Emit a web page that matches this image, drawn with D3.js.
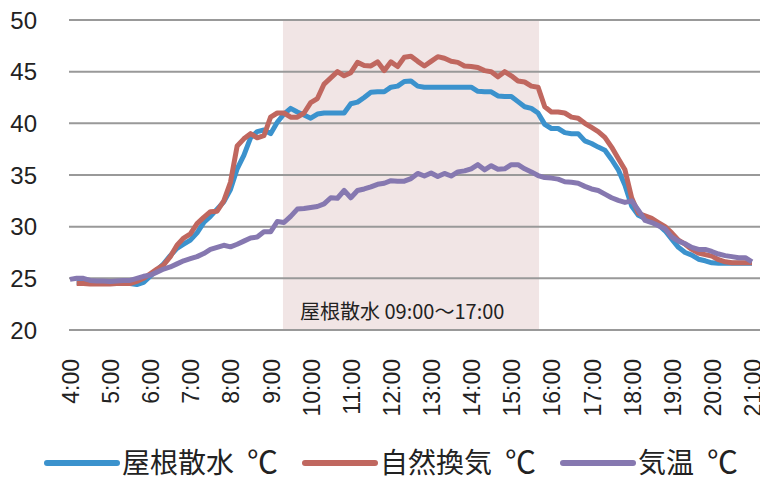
<!DOCTYPE html>
<html>
<head>
<meta charset="utf-8">
<script src="https://cdn.jsdelivr.net/npm/d3@7"></script>
<style>
  html, body { margin: 0; padding: 0; background: #fff; }
  svg text { font-family: "Liberation Sans", Arial, sans-serif; fill: #222; }
  .jp { font-family: "Noto Sans CJK JP", sans-serif; }
</style>
</head>
<body>
<svg id="chart" width="760" height="478"></svg>
<script>
// 10 minute readings, 4:00 - 21:00
const times = ("4:00 4:10 4:20 4:30 4:40 4:50 5:00 5:10 5:20 5:30 5:40 5:50 " +
  "6:00 6:10 6:20 6:30 6:40 6:50 7:00 7:10 7:20 7:30 7:40 7:50 " +
  "8:00 8:10 8:20 8:30 8:40 8:50 9:00 9:10 9:20 9:30 9:40 9:50 " +
  "10:00 10:10 10:20 10:30 10:40 10:50 11:00 11:10 11:20 11:30 11:40 11:50 " +
  "12:00 12:10 12:20 12:30 12:40 12:50 13:00 13:10 13:20 13:30 13:40 13:50 " +
  "14:00 14:10 14:20 14:30 14:40 14:50 15:00 15:10 15:20 15:30 15:40 15:50 " +
  "16:00 16:10 16:20 16:30 16:40 16:50 17:00 17:10 17:20 17:30 17:40 17:50 " +
  "18:00 18:10 18:20 18:30 18:40 18:50 19:00 19:10 19:20 19:30 19:40 19:50 " +
  "20:00 20:10 20:20 20:30 20:40 20:50 21:00").split(" ");

const hourLabels = ["4:00","5:00","6:00","7:00","8:00","9:00","10:00","11:00","12:00",
  "13:00","14:00","15:00","16:00","17:00","18:00","19:00","20:00","21:00"];
const yTicks = [20, 25, 30, 35, 40, 45, 50];

// 屋根散水 (starts 4:10)
const roofSpray = [null,
  24.6, 24.6, 24.55, 24.55, 24.5, 24.5, 24.5, 24.5, 24.5, 24.4, 24.6,
  25.2, 25.8, 26.4, 27.2, 27.9, 28.3, 28.7, 29.4, 30.4, 31.0, 31.7, 32.4,
  33.6, 35.6, 36.9, 38.6, 39.2, 39.35, 39.0, 40.1, 40.9, 41.45, 41.1, 40.8,
  40.5, 40.9, 41.0, 41.0, 41.0, 41.0, 41.9, 42.05, 42.5, 43.0, 43.05, 43.05,
  43.5, 43.6, 44.05, 44.1, 43.6, 43.5, 43.5, 43.5, 43.5, 43.5, 43.5, 43.5,
  43.5, 43.1, 43.05, 43.05, 42.65, 42.6, 42.6, 42.1, 41.6, 41.45, 41.0, 39.9,
  39.5, 39.5, 39.1, 39.0, 39.0, 38.3, 38.05, 37.7, 37.4, 36.5, 35.5, 34.0,
  32.0, 31.1, 30.8, 30.5, 30.2, 29.6, 28.8, 28.0, 27.5, 27.25, 26.85, 26.7,
  26.5, 26.45, 26.45, 26.45, 26.45, 26.45, 26.45];

// 自然換気 (starts 4:10)
const natural = [null,
  24.5, 24.5, 24.45, 24.45, 24.45, 24.45, 24.5, 24.5, 24.5, 24.7, 25.0,
  25.45, 25.9, 26.3, 27.1, 28.2, 28.9, 29.3, 30.3, 30.9, 31.45, 31.5, 32.5,
  34.3, 37.8, 38.5, 39.0, 38.6, 38.8, 40.6, 41.0, 41.0, 40.6, 40.6, 41.0,
  42.0, 42.4, 43.8, 44.4, 45.0, 44.6, 44.9, 45.9, 45.6, 45.55, 45.95, 45.1,
  45.95, 45.5, 46.4, 46.5, 46.0, 45.55, 46.0, 46.45, 46.3, 46.0, 45.9, 45.55,
  45.5, 45.4, 45.1, 45.0, 44.5, 45.0, 44.6, 44.1, 44.0, 43.6, 43.5, 41.6,
  41.1, 41.1, 41.0, 40.6, 40.5, 40.0, 39.6, 39.2, 38.65, 37.7, 36.6, 35.5,
  32.8, 31.3, 31.05, 30.8, 30.4, 30.0, 29.4, 28.7, 28.3, 27.8, 27.45, 27.3,
  27.15, 26.8, 26.6, 26.5, 26.5, 26.5, 26.5];

// 気温
const airTemp = [
  24.9, 25.0, 25.0, 24.8, 24.75, 24.75, 24.7, 24.75, 24.8, 24.8, 25.0, 25.2,
  25.3, 25.6, 25.9, 26.1, 26.4, 26.7, 26.9, 27.1, 27.4, 27.8, 28.0, 28.2,
  28.05, 28.3, 28.6, 28.9, 29.0, 29.5, 29.5, 30.5, 30.4, 31.0, 31.7, 31.75,
  31.85, 31.95, 32.2, 32.8, 32.75, 33.5, 32.8, 33.5, 33.65, 33.85, 34.1, 34.2,
  34.45, 34.4, 34.4, 34.65, 35.15, 34.9, 35.2, 34.85, 35.15, 34.9, 35.3, 35.4,
  35.6, 36.0, 35.5, 35.9, 35.55, 35.6, 36.0, 36.0, 35.6, 35.3, 34.95, 34.75,
  34.7, 34.6, 34.35, 34.3, 34.2, 33.9, 33.65, 33.5, 33.15, 32.8, 32.55, 32.35,
  32.5, 31.6, 30.6, 30.4, 30.1, 29.8, 29.0, 28.6, 28.35, 28.0, 27.8, 27.8,
  27.6, 27.35, 27.2, 27.1, 27.0, 27.0, 26.6];

const series = [
  {name: "屋根散水", unit: "℃", color: "#3b92cd", values: roofSpray},
  {name: "自然換気", unit: "℃", color: "#c0675f", values: natural},
  {name: "気温", unit: "℃", color: "#8678b0", values: airTemp}
];

const shadeFrom = "9:20", shadeTo = "15:40";
const shadeLabel = "屋根散水 09:00～17:00";

const svg = d3.select("#chart");
const plotLeft = 69, plotRight = 760, plotTop = 20, plotBottom = 330;

const x = d3.scalePoint().domain(times).range([70, 752]);
const y = d3.scaleLinear().domain([20, 50]).range([plotBottom, plotTop]);

// shaded watering period
svg.append("rect")
    .attr("x", x(shadeFrom) - 1)
    .attr("y", plotTop)
    .attr("width", x(shadeTo) - x(shadeFrom) + 2)
    .attr("height", plotBottom - plotTop)
    .attr("fill", "#f1e5e5");

// horizontal grid
svg.append("g")
    .selectAll("line")
    .data(yTicks)
    .enter()
    .append("line")
        .attr("x1", plotLeft)
        .attr("x2", plotRight)
        .attr("y1", d => y(d))
        .attr("y2", d => y(d))
        .attr("stroke", "#999")
        .attr("stroke-width", 2);

svg.append("g")
    .selectAll("text")
    .data(yTicks)
    .enter()
    .append("text")
        .attr("x", 37)
        .attr("y", d => y(d))
        .attr("dy", "0.36em")
        .attr("text-anchor", "end")
        .style("font-size", "24px")
        .text(d => d);

svg.append("text")
    .attr("class", "jp")
    .attr("x", 300)
    .attr("y", 319)
    .style("font-size", "20px")
    .text(shadeLabel);

// x labels, rotated
svg.append("g")
    .selectAll("text")
    .data(hourLabels)
    .enter()
    .append("text")
        .attr("transform", d => "translate(" + (x(d) + 9) + ",359) rotate(-90)")
        .attr("text-anchor", "end")
        .style("font-size", "23px")
        .text(d => d);

const line = d3.line()
    .defined(d => d != null)
    .x((d, i) => x(times[i]))
    .y(d => y(d));

svg.append("g")
    .selectAll("path")
    .data(series)
    .enter()
    .append("path")
        .attr("d", d => line(d.values))
        .attr("fill", "none")
        .attr("stroke", d => d.color)
        .attr("stroke-width", 5)
        .attr("stroke-linejoin", "round");

// legend
const legendX = [47, 305, 563];
const lg = svg.append("g")
    .selectAll("g")
    .data(series)
    .enter()
    .append("g")
        .attr("transform", (d, i) => "translate(" + legendX[i] + ",463)");

lg.append("line")
    .attr("x1", 0).attr("x2", 70)
    .attr("stroke", d => d.color)
    .attr("stroke-width", 6)
    .attr("stroke-linecap", "round");

const lt = lg.append("text")
    .attr("class", "jp")
    .attr("x", 75)
    .attr("dy", "0.36em")
    .style("font-size", "28px")
    .text(d => d.name);

lt.append("tspan")
    .attr("dx", 6)
    .style("font-size", "31px")
    .text(d => " " + d.unit);
</script>
</body>
</html>
